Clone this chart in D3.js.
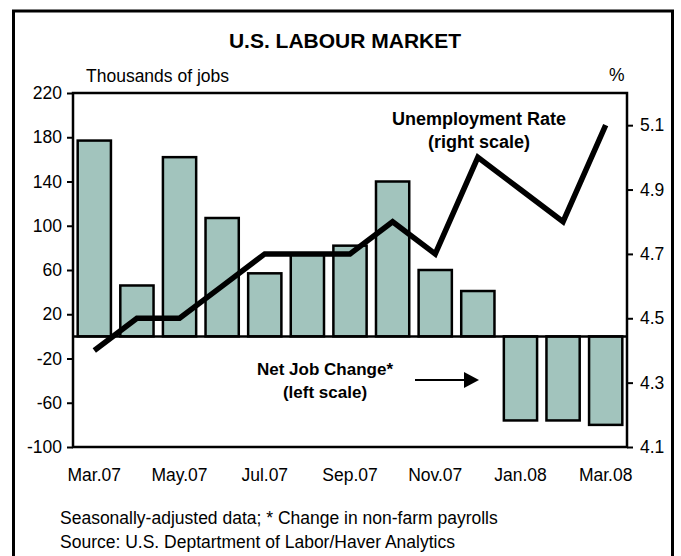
<!DOCTYPE html>
<html>
<head>
<meta charset="utf-8">
<script src="https://cdn.jsdelivr.net/npm/d3@7"></script>
<style>
  body { margin: 0; background: #fff; }
  svg { display: block; font-family: "Liberation Sans", Arial, sans-serif; }
</style>
</head>
<body>
<div id="chart"></div>
<script>
// Dati
const months = ['Mar.07', 'Apr.07', 'May.07', 'Jun.07', 'Jul.07', 'Aug.07', 'Sep.07',
                'Oct.07', 'Nov.07', 'Dec.07', 'Jan.08', 'Feb.08', 'Mar.08'];
const jobChange = [177, 46, 162, 107, 57, 74, 82, 140, 60, 41, -76, -76, -80];
const unemployment = [4.4, 4.5, 4.5, 4.6, 4.7, 4.7, 4.7, 4.8, 4.7, 5.0, 4.9, 4.8, 5.1];
const leftTicks = [220, 180, 140, 100, 60, 20, -20, -60, -100];
const rightTicks = [5.1, 4.9, 4.7, 4.5, 4.3, 4.1];
const xLabels = ['Mar.07', 'May.07', 'Jul.07', 'Sep.07', 'Nov.07', 'Jan.08', 'Mar.08'];

const width = 681, height = 556;
const plot = { left: 73, right: 627, top: 93, bottom: 447 };
const fontSize = '17.5px';

const svg = d3.select('#chart').append('svg')
    .attr('width', width)
    .attr('height', height);

// Cornice esterna
svg.append('rect')
    .attr('x', 13.5).attr('y', 11)
    .attr('width', 659).attr('height', 560)
    .attr('fill', 'none')
    .attr('stroke', '#000')
    .attr('stroke-width', 3);

// Scale
const x = d3.scaleBand()
    .domain(months)
    .range([plot.left, plot.right])
    .paddingInner(0.22)
    .paddingOuter(0.11);

const yL = d3.scaleLinear().domain([-100, 220]).range([plot.bottom, plot.top]);
const yR = d3.scaleLinear().domain([4.1, 5.2]).range([plot.bottom, plot.top]);

// Titolo
svg.append('text')
    .attr('x', 345).attr('y', 48)
    .attr('text-anchor', 'middle')
    .attr('font-size', '21px')
    .attr('font-weight', 'bold')
    .text('U.S. LABOUR MARKET');

svg.append('text')
    .attr('x', 86).attr('y', 82)
    .attr('font-size', fontSize)
    .text('Thousands of jobs');

svg.append('text')
    .attr('x', 609).attr('y', 81)
    .attr('font-size', fontSize)
    .text('%');

// Barre
svg.append('g')
    .selectAll('rect')
    .data(jobChange)
    .join('rect')
    .attr('x', (d, i) => x(months[i]))
    .attr('width', x.bandwidth())
    .attr('y', d => yL(Math.max(0, d)))
    .attr('height', d => Math.abs(yL(d) - yL(0)))
    .attr('fill', '#a2c4bd')
    .attr('stroke', '#000')
    .attr('stroke-width', 2.5);

// Linea dello zero
svg.append('line')
    .attr('x1', plot.left).attr('x2', plot.right)
    .attr('y1', yL(0)).attr('y2', yL(0))
    .attr('stroke', '#000')
    .attr('stroke-width', 2.5);

// Cornice area grafico
svg.append('rect')
    .attr('x', plot.left).attr('y', plot.top)
    .attr('width', plot.right - plot.left)
    .attr('height', plot.bottom - plot.top)
    .attr('fill', 'none')
    .attr('stroke', '#000')
    .attr('stroke-width', 2.5);

// Assi
const axisL = svg.append('g')
    .attr('transform', `translate(${plot.left},0)`)
    .call(d3.axisLeft(yL).tickValues(leftTicks).tickFormat(d => String(d)).tickSize(6).tickPadding(5));

const axisR = svg.append('g')
    .attr('transform', `translate(${plot.right},0)`)
    .call(d3.axisRight(yR).tickValues(rightTicks).tickFormat(d3.format('.1f')).tickSize(6).tickPadding(7));

[axisL, axisR].forEach(a => {
    a.select('.domain').remove();
    a.selectAll('.tick line').attr('stroke', '#000').attr('stroke-width', 2);
    a.selectAll('.tick text')
        .attr('font-size', fontSize)
        .attr('font-family', '"Liberation Sans", Arial, sans-serif')
        .attr('fill', '#000');
});

// Etichette asse x
svg.append('g')
    .selectAll('text')
    .data(xLabels)
    .join('text')
    .attr('x', d => x(d) + x.bandwidth() / 2)
    .attr('y', 481)
    .attr('text-anchor', 'middle')
    .attr('font-size', fontSize)
    .text(d => d);

// Linea tasso di disoccupazione
const line = d3.line()
    .x((d, i) => x(months[i]) + x.bandwidth() / 2)
    .y(d => yR(d));

svg.append('path')
    .datum(unemployment)
    .attr('d', line)
    .attr('fill', 'none')
    .attr('stroke', '#000')
    .attr('stroke-width', 5.5)
    .attr('stroke-linejoin', 'miter');

// Annotazioni
const ann = svg.append('g')
    .attr('font-weight', 'bold')
    .attr('text-anchor', 'middle');

ann.append('text').attr('x', 479).attr('y', 125).attr('font-size', '18px').text('Unemployment Rate');
ann.append('text').attr('x', 479).attr('y', 148).attr('font-size', '18px').text('(right scale)');
ann.append('text').attr('x', 325).attr('y', 375).attr('font-size', '17px').text('Net Job Change*');
ann.append('text').attr('x', 325).attr('y', 398).attr('font-size', '17px').text('(left scale)');

// Freccia
svg.append('line')
    .attr('x1', 415).attr('x2', 466)
    .attr('y1', 380).attr('y2', 380)
    .attr('stroke', '#000')
    .attr('stroke-width', 2);
svg.append('path')
    .attr('d', 'M464,372 L479,380 L464,388 Z')
    .attr('fill', '#000');

// Note
svg.append('text')
    .attr('x', 60).attr('y', 524)
    .attr('font-size', fontSize)
    .text('Seasonally-adjusted data; * Change in non-farm payrolls');
svg.append('text')
    .attr('x', 60).attr('y', 548)
    .attr('font-size', fontSize)
    .text('Source: U.S. Deptartment of Labor/Haver Analytics');
</script>
</body>
</html>
